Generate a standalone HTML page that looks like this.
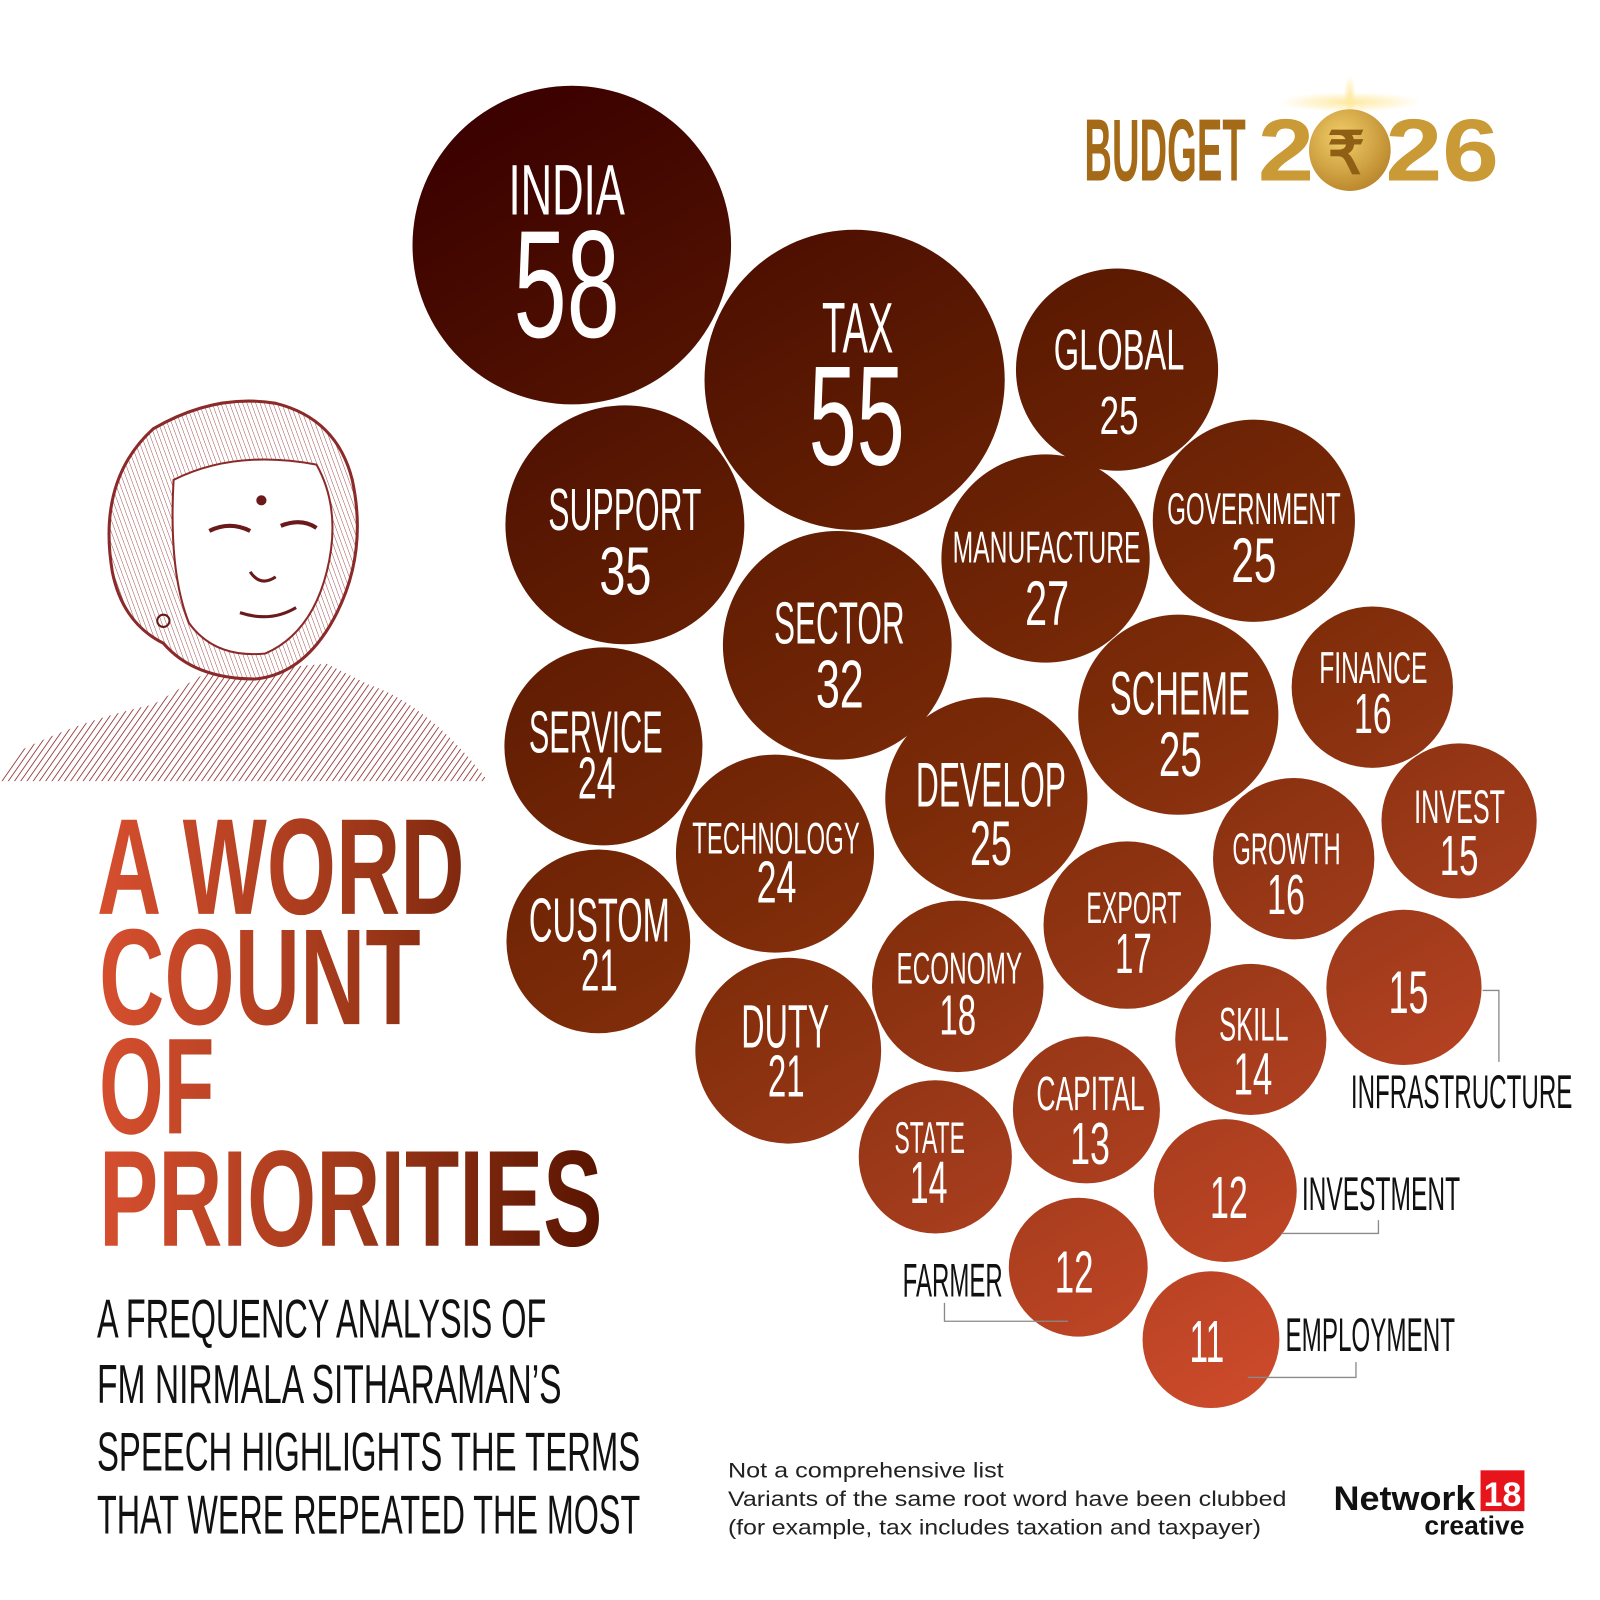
<!DOCTYPE html>
<html><head><meta charset="utf-8"><style>
html,body{margin:0;padding:0;background:#fff;}
svg{display:block;}
text{font-family:"Liberation Sans",sans-serif;}
</style></head><body>
<svg width="1600" height="1600" viewBox="0 0 1567 1567" xmlns="http://www.w3.org/2000/svg">
<defs>
<linearGradient id="bg" gradientUnits="userSpaceOnUse" x1="500" y1="80" x2="1250" y2="1380">
<stop offset="0" stop-color="#3a0000"/>
<stop offset="0.3" stop-color="#5c1a02"/>
<stop offset="0.55" stop-color="#7c2b08"/>
<stop offset="0.75" stop-color="#9e3a1a"/>
<stop offset="1" stop-color="#cf4b2c"/>
</linearGradient>
<linearGradient id="tg" gradientUnits="userSpaceOnUse" x1="95" y1="0" x2="595" y2="0">
<stop offset="0" stop-color="#d64f2f"/>
<stop offset="0.5" stop-color="#a0391a"/>
<stop offset="1" stop-color="#561300"/>
</linearGradient>
<radialGradient id="coin" cx="0.4" cy="0.35" r="0.7">
<stop offset="0" stop-color="#f2cf6a"/><stop offset="1" stop-color="#b9852a"/>
</radialGradient>
<radialGradient id="glow" cx="0.5" cy="0.5" r="0.5">
<stop offset="0" stop-color="#ffe9a0" stop-opacity="1"/><stop offset="1" stop-color="#ffe9a0" stop-opacity="0"/>
</radialGradient>
<pattern id="hatch" width="5" height="5" patternUnits="userSpaceOnUse" patternTransform="rotate(35)">
<rect width="5" height="5" fill="#fff"/><line x1="0" y1="0" x2="0" y2="5" stroke="#8c2a2a" stroke-width="1.6"/>
</pattern>
<pattern id="hatch2" width="4" height="4" patternUnits="userSpaceOnUse" patternTransform="rotate(-20)">
<rect width="4" height="4" fill="#fff"/><line x1="0" y1="0" x2="0" y2="4" stroke="#8c2a2a" stroke-width="0.8"/>
</pattern>
</defs>

<g>
<path d="M0,765 L20,735 Q80,705 150,690 L200,660 L320,650 L360,670 Q420,690 478,765 Z" fill="url(#hatch)"/>
<path d="M110,560 Q95,470 150,420 Q210,385 270,395 Q330,410 345,470 Q360,540 330,600 Q300,660 250,665 Q190,665 160,630 Q120,610 110,560 Z" fill="url(#hatch2)" stroke="#8c2a2a" stroke-width="3"/>
<path d="M170,470 Q230,440 310,455 Q335,500 320,560 Q305,620 260,640 Q210,645 185,610 Q165,560 170,470 Z" fill="#fff" stroke="#8c2a2a" stroke-width="2"/>
<circle cx="256" cy="490" r="5" fill="#6a1a1a"/>
<path d="M205,520 q20,-10 40,0 M275,515 q20,-8 35,2" stroke="#6a1a1a" stroke-width="4" fill="none"/>
<path d="M245,560 q10,15 25,5 M235,600 q30,10 55,-5" stroke="#6a1a1a" stroke-width="3" fill="none"/>
<circle cx="160" cy="608" r="6" fill="none" stroke="#6a1a1a" stroke-width="2"/>
</g>

<g fill="url(#bg)">
<circle cx="560" cy="240" r="156"/>
<circle cx="837" cy="372" r="147"/>
<circle cx="1094" cy="362" r="99"/>
<circle cx="612" cy="514" r="117"/>
<circle cx="1024" cy="547" r="102"/>
<circle cx="1228" cy="510" r="99"/>
<circle cx="820" cy="632" r="112"/>
<circle cx="591" cy="731" r="97"/>
<circle cx="1154" cy="700" r="98"/>
<circle cx="1344" cy="673" r="79"/>
<circle cx="966" cy="782" r="99"/>
<circle cx="759" cy="836" r="97"/>
<circle cx="586" cy="922" r="90"/>
<circle cx="1429" cy="804" r="76"/>
<circle cx="1267" cy="841" r="79"/>
<circle cx="1104" cy="906" r="82"/>
<circle cx="938" cy="966" r="84"/>
<circle cx="772" cy="1029" r="91"/>
<circle cx="1375" cy="967" r="76"/>
<circle cx="1225" cy="1018" r="74"/>
<circle cx="1064" cy="1087" r="72"/>
<circle cx="916" cy="1133" r="75"/>
<circle cx="1200" cy="1166" r="70"/>
<circle cx="1056" cy="1241" r="68"/>
<circle cx="1186" cy="1312" r="67"/>
</g>

<g fill="#fff">
<text x="498" y="210" font-size="70" textLength="114" lengthAdjust="spacingAndGlyphs">INDIA</text>
<text x="503" y="330" font-size="150" textLength="104" lengthAdjust="spacingAndGlyphs">58</text>
<text x="805" y="345" font-size="70" textLength="70" lengthAdjust="spacingAndGlyphs">TAX</text>
<text x="792" y="455" font-size="139" textLength="94" lengthAdjust="spacingAndGlyphs">55</text>
<text x="1032" y="362" font-size="56" textLength="128" lengthAdjust="spacingAndGlyphs">GLOBAL</text>
<text x="1077" y="425" font-size="53" textLength="38" lengthAdjust="spacingAndGlyphs">25</text>
<text x="537" y="519" font-size="58" textLength="150" lengthAdjust="spacingAndGlyphs">SUPPORT</text>
<text x="587" y="582" font-size="66" textLength="51" lengthAdjust="spacingAndGlyphs">35</text>
<text x="933" y="551" font-size="44" textLength="184" lengthAdjust="spacingAndGlyphs">MANUFACTURE</text>
<text x="1004" y="612" font-size="62" textLength="43" lengthAdjust="spacingAndGlyphs">27</text>
<text x="1143" y="513" font-size="44" textLength="170" lengthAdjust="spacingAndGlyphs">GOVERNMENT</text>
<text x="1206" y="570" font-size="62" textLength="44" lengthAdjust="spacingAndGlyphs">25</text>
<text x="758" y="630" font-size="58" textLength="128" lengthAdjust="spacingAndGlyphs">SECTOR</text>
<text x="799" y="693" font-size="66" textLength="47" lengthAdjust="spacingAndGlyphs">32</text>
<text x="518" y="737" font-size="58" textLength="131" lengthAdjust="spacingAndGlyphs">SERVICE</text>
<text x="566" y="782" font-size="58" textLength="37" lengthAdjust="spacingAndGlyphs">24</text>
<text x="1087" y="700" font-size="60" textLength="137" lengthAdjust="spacingAndGlyphs">SCHEME</text>
<text x="1135" y="760" font-size="62" textLength="42" lengthAdjust="spacingAndGlyphs">25</text>
<text x="1292" y="669" font-size="44" textLength="106" lengthAdjust="spacingAndGlyphs">FINANCE</text>
<text x="1326" y="718" font-size="55" textLength="37" lengthAdjust="spacingAndGlyphs">16</text>
<text x="897" y="790" font-size="62" textLength="147" lengthAdjust="spacingAndGlyphs">DEVELOP</text>
<text x="950" y="847" font-size="62" textLength="41" lengthAdjust="spacingAndGlyphs">25</text>
<text x="678" y="836" font-size="44" textLength="164" lengthAdjust="spacingAndGlyphs">TECHNOLOGY</text>
<text x="741" y="884" font-size="58" textLength="39" lengthAdjust="spacingAndGlyphs">24</text>
<text x="518" y="922" font-size="61" textLength="138" lengthAdjust="spacingAndGlyphs">CUSTOM</text>
<text x="569" y="970" font-size="58" textLength="36" lengthAdjust="spacingAndGlyphs">21</text>
<text x="1385" y="806" font-size="46" textLength="89" lengthAdjust="spacingAndGlyphs">INVEST</text>
<text x="1410" y="857" font-size="55" textLength="38" lengthAdjust="spacingAndGlyphs">15</text>
<text x="1207" y="846" font-size="44" textLength="106" lengthAdjust="spacingAndGlyphs">GROWTH</text>
<text x="1241" y="895" font-size="55" textLength="37" lengthAdjust="spacingAndGlyphs">16</text>
<text x="1064" y="904" font-size="44" textLength="93" lengthAdjust="spacingAndGlyphs">EXPORT</text>
<text x="1092" y="953" font-size="55" textLength="36" lengthAdjust="spacingAndGlyphs">17</text>
<text x="878" y="963" font-size="44" textLength="123" lengthAdjust="spacingAndGlyphs">ECONOMY</text>
<text x="920" y="1013" font-size="55" textLength="36" lengthAdjust="spacingAndGlyphs">18</text>
<text x="726" y="1026" font-size="60" textLength="86" lengthAdjust="spacingAndGlyphs">DUTY</text>
<text x="752" y="1074" font-size="58" textLength="36" lengthAdjust="spacingAndGlyphs">21</text>
<text x="1360" y="992" font-size="59" textLength="39" lengthAdjust="spacingAndGlyphs">15</text>
<text x="1194" y="1019" font-size="46" textLength="68" lengthAdjust="spacingAndGlyphs">SKILL</text>
<text x="1208" y="1072" font-size="58" textLength="38" lengthAdjust="spacingAndGlyphs">14</text>
<text x="1015" y="1087" font-size="47" textLength="106" lengthAdjust="spacingAndGlyphs">CAPITAL</text>
<text x="1048" y="1140" font-size="58" textLength="39" lengthAdjust="spacingAndGlyphs">13</text>
<text x="876" y="1129" font-size="44" textLength="69" lengthAdjust="spacingAndGlyphs">STATE</text>
<text x="891" y="1178" font-size="58" textLength="37" lengthAdjust="spacingAndGlyphs">14</text>
<text x="1185" y="1193" font-size="58" textLength="37" lengthAdjust="spacingAndGlyphs">12</text>
<text x="1033" y="1266" font-size="58" textLength="38" lengthAdjust="spacingAndGlyphs">12</text>
<text x="1165" y="1334" font-size="58" textLength="34" lengthAdjust="spacingAndGlyphs">11</text>
</g>

<g stroke="#8a8a8a" stroke-width="1.3" fill="none">
<polyline points="1452,970 1468,970 1468,1040"/>
<polyline points="1255,1208 1350,1208 1350,1195"/>
<polyline points="925,1276 925,1294 1046,1294"/>
<polyline points="1222,1349 1328,1349 1328,1334"/>
</g>
<g fill="#111">
<text x="1323" y="1085" font-size="46" textLength="217" lengthAdjust="spacingAndGlyphs">INFRASTRUCTURE</text>
<text x="1275" y="1185" font-size="46" textLength="155" lengthAdjust="spacingAndGlyphs">INVESTMENT</text>
<text x="884" y="1270" font-size="46" textLength="98" lengthAdjust="spacingAndGlyphs">FARMER</text>
<text x="1259" y="1323" font-size="46" textLength="166" lengthAdjust="spacingAndGlyphs">EMPLOYMENT</text>
</g>

<g fill="url(#tg)" font-weight="bold">
<text x="95" y="895" font-size="134" textLength="360" lengthAdjust="spacingAndGlyphs">A WORD</text>
<text x="97" y="1003" font-size="134" textLength="315" lengthAdjust="spacingAndGlyphs">COUNT</text>
<text x="97" y="1110" font-size="134" textLength="113" lengthAdjust="spacingAndGlyphs">OF</text>
<text x="97" y="1220" font-size="134" textLength="493" lengthAdjust="spacingAndGlyphs">PRIORITIES</text>
</g>
<g fill="#111" font-size="54">
<text x="95" y="1310" textLength="440" lengthAdjust="spacingAndGlyphs">A FREQUENCY ANALYSIS OF</text>
<text x="95" y="1374" textLength="455" lengthAdjust="spacingAndGlyphs">FM NIRMALA SITHARAMAN’S</text>
<text x="95" y="1440" textLength="532" lengthAdjust="spacingAndGlyphs">SPEECH HIGHLIGHTS THE TERMS</text>
<text x="95" y="1502" textLength="532" lengthAdjust="spacingAndGlyphs">THAT WERE REPEATED THE MOST</text>
</g>

<g fill="#222" font-size="21">
<text x="713" y="1447" textLength="270" lengthAdjust="spacingAndGlyphs">Not a comprehensive list</text>
<text x="713" y="1475" textLength="547" lengthAdjust="spacingAndGlyphs">Variants of the same root word have been clubbed</text>
<text x="713" y="1503" textLength="522" lengthAdjust="spacingAndGlyphs">(for example, tax includes taxation and taxpayer)</text>
</g>

<text x="1306" y="1479" font-size="34" font-weight="bold" fill="#111" textLength="139" lengthAdjust="spacingAndGlyphs">Network</text>
<rect x="1450" y="1440" width="43" height="40" fill="#e8141c"/>
<text x="1453" y="1475" font-size="34" font-weight="bold" fill="#fff" textLength="37" lengthAdjust="spacingAndGlyphs">18</text>
<text x="1395" y="1503" font-size="25" font-weight="bold" fill="#111" textLength="98" lengthAdjust="spacingAndGlyphs">creative</text>

<text x="1062" y="177" font-size="86" font-weight="bold" fill="#a56a17" textLength="158" lengthAdjust="spacingAndGlyphs">BUDGET</text>
<text x="1232" y="177" font-size="86" font-weight="bold" fill="#c99a35" textLength="55" lengthAdjust="spacingAndGlyphs">2</text>
<ellipse cx="1322" cy="100" rx="70" ry="10" fill="url(#glow)"/>
<ellipse cx="1322" cy="95" rx="6" ry="22" fill="url(#glow)"/>
<circle cx="1322" cy="147" r="40" fill="url(#coin)"/>
<text x="1300" y="170" font-size="58" font-weight="bold" fill="#8f5f15" font-family="DejaVu Sans,sans-serif">₹</text>
<text x="1357" y="177" font-size="86" font-weight="bold" fill="#c99a35" textLength="111" lengthAdjust="spacingAndGlyphs">26</text>
</svg>
</body></html>
